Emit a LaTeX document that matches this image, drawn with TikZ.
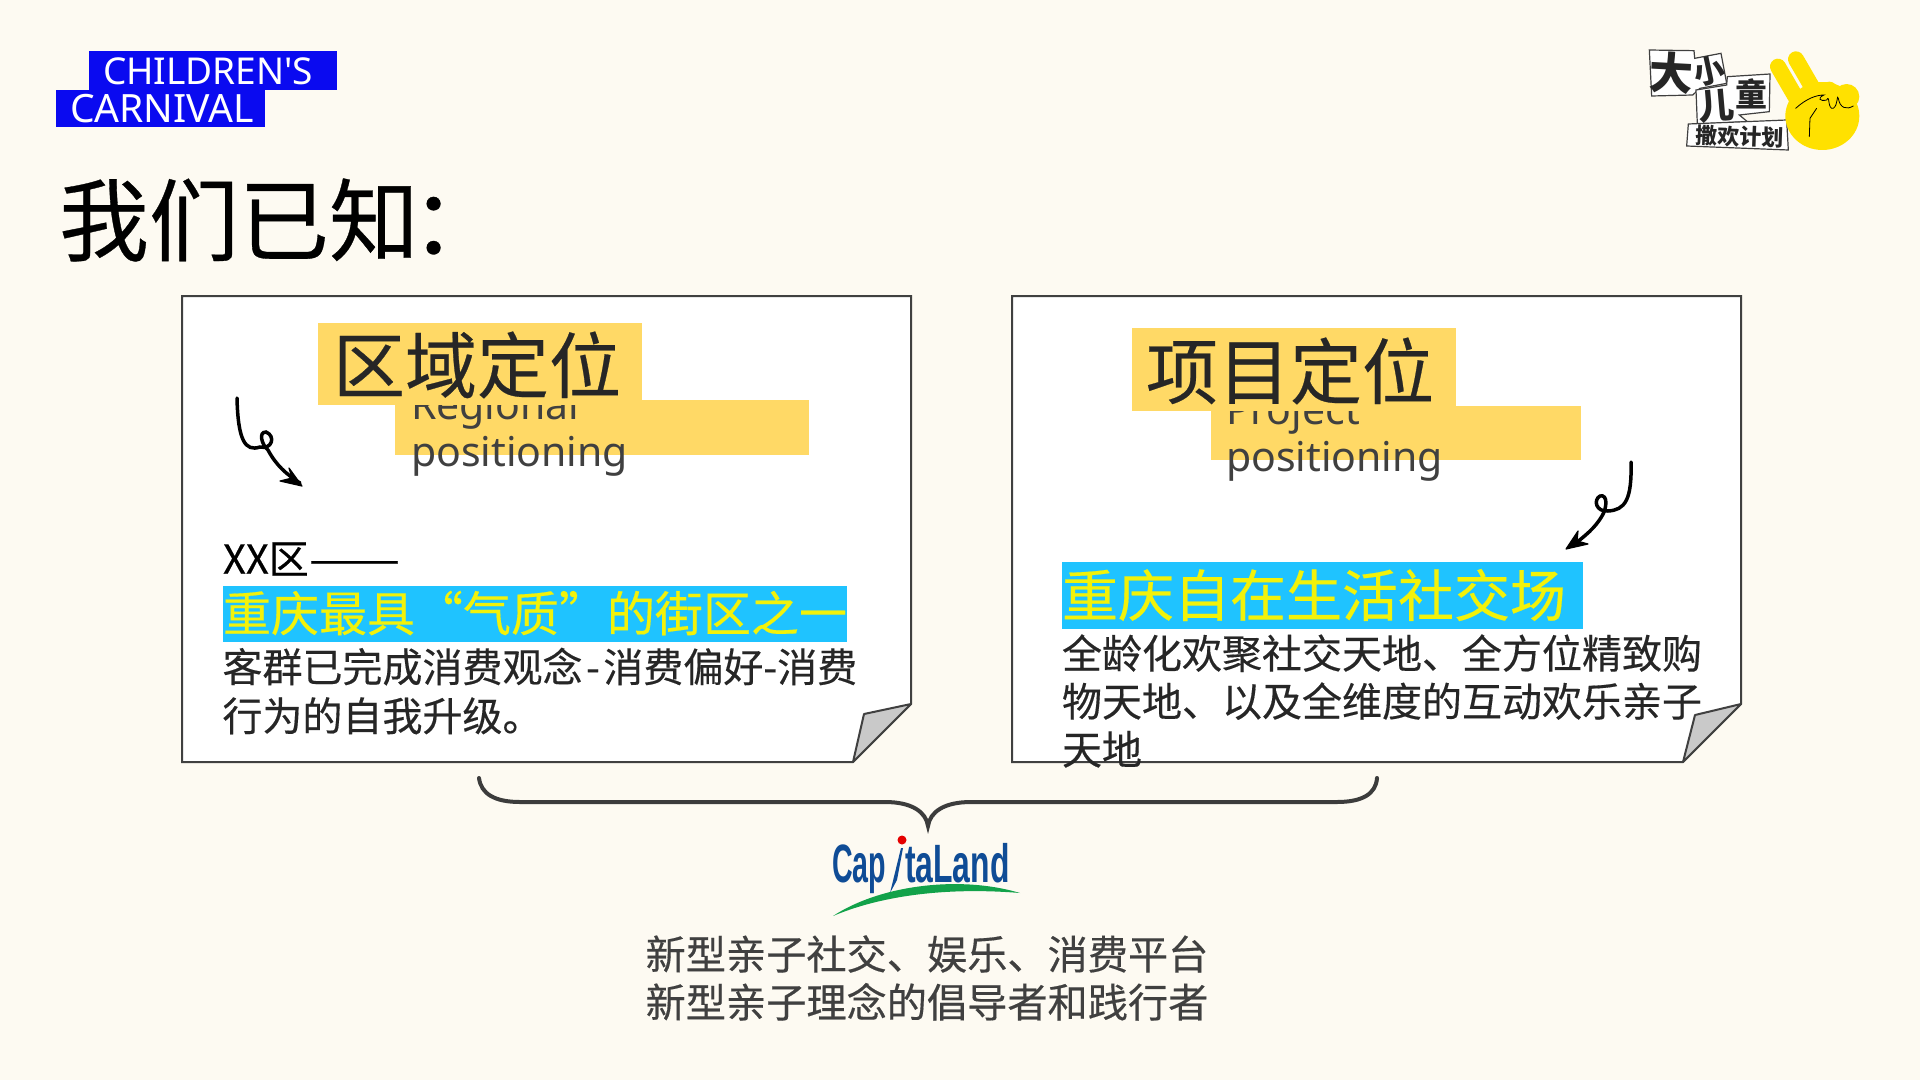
\documentclass[tikz,border=0pt]{standalone}
\usepackage{fontspec}
\usepackage{graphicx}
\setmainfont[FakeBold=0.35]{Noto Sans CJK SC}
\newfontfamily\plainf{Noto Sans CJK SC}
\newfontfamily\latinf{Noto Sans}
\newfontfamily\logof{Liberation Sans}
\definecolor{bgc}{HTML}{FDFAF2}
\definecolor{edgec}{HTML}{404040}
\definecolor{goldc}{HTML}{FFD966}
\definecolor{cyanc}{HTML}{1FC3FF}
\definecolor{yellowt}{HTML}{F2F20A}
\definecolor{bluec}{HTML}{0A0AF0}
\definecolor{logob}{HTML}{0F4C96}
\definecolor{logog}{HTML}{12A24A}
\definecolor{handc}{HTML}{FFE100}
\definecolor{inkc}{HTML}{262626}
\definecolor{grayc}{HTML}{404040}
\definecolor{foldc}{HTML}{C9C9C9}
\newcommand{\fsz}[2]{\fontsize{#1}{#2}\selectfont}
\tikzset{
 txt/.style={inner sep=0pt,outer sep=0pt,anchor=west,align=left},
 sheet/.style={draw=edgec,line width=2pt,fill=white,line join=miter},
 foldp/.style={draw=edgec,line width=2pt,fill=foldc,line join=round},
 squig/.style={draw=black,line width=3.5pt,line cap=round},
 ahead/.style={fill=black,draw=black,line width=1.2pt,line join=round},
 stick/.style={draw=edgec,line width=1.2pt,fill=white},
 stxt/.style={inner sep=0pt,text=inkc},
}
\begin{document}
\begin{tikzpicture}[x=1pt,y=-1pt]
\useasboundingbox (0,0) rectangle (1920,1080);
\fill[bgc] (0,0) rectangle (1920,1080);
% header tag
\fill[bluec] (89,51) rectangle (337,90);
\fill[bluec] (56,90) rectangle (265,127);
\node[txt,text=white,font=\latinf\fsz{37}{37}] (tagA) at (103,71) {CHILDREN'S};
\node[txt,text=white,font=\latinf\fsz{39}{39}] (tagB) at (70,109) {CARNIVAL};
% title
\node[txt,text=black,font=\fsz{90}{90}] (title) at (59,220) {我们已知\hspace{-8pt}：};
% left sheet
\draw[sheet] (182,296) -- (911,296) -- (911,704) -- (853,762) -- (182,762) -- cycle;
\draw[foldp] (853,762) -- (864,714) -- (911,704) -- cycle;
\fill[goldc] (395,400) rectangle (809,455);
\node[txt,text=grayc,font=\latinf\fsz{41}{47}] (engL) at (411,432) {Regional\\positioning};
\fill[goldc] (318,323) rectangle (642,405);
\node[txt,text=inkc,font=\fsz{72}{72}] (headL) at (333,365) {区域定位};
\draw[squig] (237,398) .. controls (238,440) and (245,452) .. (260,447)
  .. controls (272,450) and (276,436) .. (266,432) .. controls (258,432) and (262,445) .. (268,450)
  .. controls (276,465) and (286,474) .. (300,483);
\path[ahead] (302,486) -- (280,481) -- (292,478) -- (289,468) -- cycle;
\node[txt,text=black,font=\fsz{40}{40}] (xx) at (223,559) {XX区\scalebox{1.36}[1]{——}};
\fill[cyanc] (223,586) rectangle (847,642);
\node[txt,text=yellowt,font=\fsz{48}{48}] (hlL) at (223,613) {重庆最具“气质”的街区之一};
\node[txt,text=inkc,font=\fsz{40}{49}] (bodyL) at (222.5,691) {客群已完成消费观念\hspace{3.5pt}-\hspace{3.5pt}消费偏好-消费\\行为的自我升级。};
% right sheet
\draw[sheet] (1012,296) -- (1741,296) -- (1741,704) -- (1683,762) -- (1012,762) -- cycle;
\draw[foldp] (1683,762) -- (1695,715) -- (1741,704) -- cycle;
\fill[goldc] (1211,406) rectangle (1581,460);
\node[txt,text=grayc,font=\latinf\fsz{41}{47}] (engR) at (1226,438) {Project\\positioning};
\fill[goldc] (1132,328) rectangle (1456,411);
\node[txt,text=inkc,font=\fsz{72}{72}] (headR) at (1146,371) {项目定位};
\draw[squig] (1631,462) .. controls (1632,500) and (1625,510) .. (1608,511)
  .. controls (1596,512) and (1593,500) .. (1600,496) .. controls (1608,494) and (1607,508) .. (1602,516)
  .. controls (1595,528) and (1585,536) .. (1572,546);
\path[ahead] (1566,549) -- (1578,531) -- (1577,541) -- (1588,544) -- cycle;
\fill[cyanc] (1062,562) rectangle (1583,629);
\node[txt,text=yellowt,font=\fsz{56}{56}] (hlR) at (1062,595) {重庆自在生活社交场};
\node[txt,text=inkc,font=\fsz{40}{48}] (bodyR) at (1062,701) {全龄化欢聚社交天地、全方位精致购\\物天地、以及全维度的互动欢乐亲子\\天地};
% brace
\draw[draw=inkc!90,line width=4pt,line cap=round] (479,778) .. controls (481,794) and (495,802) .. (520,802)
  -- (885,802) .. controls (912,802) and (926,812) .. (928,826)
  .. controls (930,812) and (944,802) .. (971,802) -- (1337,802)
  .. controls (1362,802) and (1376,794) .. (1377,778);
% CapitaLand logo
\node[inner sep=0pt,anchor=base west,text=logob,font=\logof\bfseries\fsz{54}{54},xscale=.53] (logoA) at (832,882) {Cap};
\node[inner sep=0pt,anchor=base west,text=logob,font=\logof\bfseries\fsz{54}{54},xscale=.59] (logoB) at (905,882) {taLand};
\fill[logob] (901,848) -- (890,893) -- (897,880) -- (903,848) -- cycle;
\fill[red!90!black] (902,840) circle (4.5);
\fill[logog] (833,916) .. controls (880,885) and (960,875) .. (1020,893)
  .. controls (960,888) and (890,892) .. (833,916) -- cycle;
\node[inner sep=0pt,align=center,text=grayc,font=\fsz{40.2}{48},anchor=center] (tagline) at (927,978) {新型亲子社交、娱乐、消费平台\\新型亲子理念的倡导者和践行者};
% top right logo
\begin{scope}[shift={(1620,30)},x=0.3333pt,y=-0.3333pt]
 \draw[stick] (88,60) -- (222,62) -- (224,85) -- (303,70) -- (320,160) -- (240,175) -- (218,195) -- (95,198) -- cycle;
 \draw[stick] (228,180) -- (320,165) -- (322,140) -- (450,132) -- (448,245) -- (358,255) -- (382,275) -- (232,282) -- cycle;
 \draw[stick] (205,282) -- (500,270) -- (505,360) -- (200,348) -- cycle;
 \node[stxt,font=\plainf\bfseries\fsz{44}{44},rotate=-3] (lgA) at (155,130) {大};
 \node[stxt,font=\plainf\bfseries\fsz{31}{31},rotate=12] (lgB) at (268,122) {小};
 \node[stxt,font=\plainf\bfseries\fsz{36}{36},rotate=5] (lgC) at (290,228) {儿};
 \node[stxt,font=\plainf\bfseries\fsz{32}{32}] (lgD) at (395,192) {童};
 \node[stxt,font=\plainf\bfseries\fsz{22}{22},rotate=-2] (lgE) at (360,320) {撒欢计划};
 \draw[handc,line width=16pt,line cap=round] (474,110) -- (535,215);
 \draw[handc,line width=16pt,line cap=round] (528,88) -- (590,195);
 \fill[handc] (607,258) ellipse (111 and 102);
 \fill[handc] (628,180) circle (25);
 \fill[handc] (680,200) circle (38);
 \draw[black,line width=.8pt,line cap=round] (527,235) .. controls (560,205) and (590,195) .. (612,195)
   .. controls (590,205) and (600,215) .. (620,210) .. controls (630,190) and (622,240) .. (640,235)
   .. controls (655,225) and (650,190) .. (655,205) .. controls (660,235) and (680,240) .. (700,228);
 \draw[black,line width=.8pt,line cap=round] (568,320) -- (570,265) -- (590,235);
\end{scope}
\end{tikzpicture}
\end{document}
